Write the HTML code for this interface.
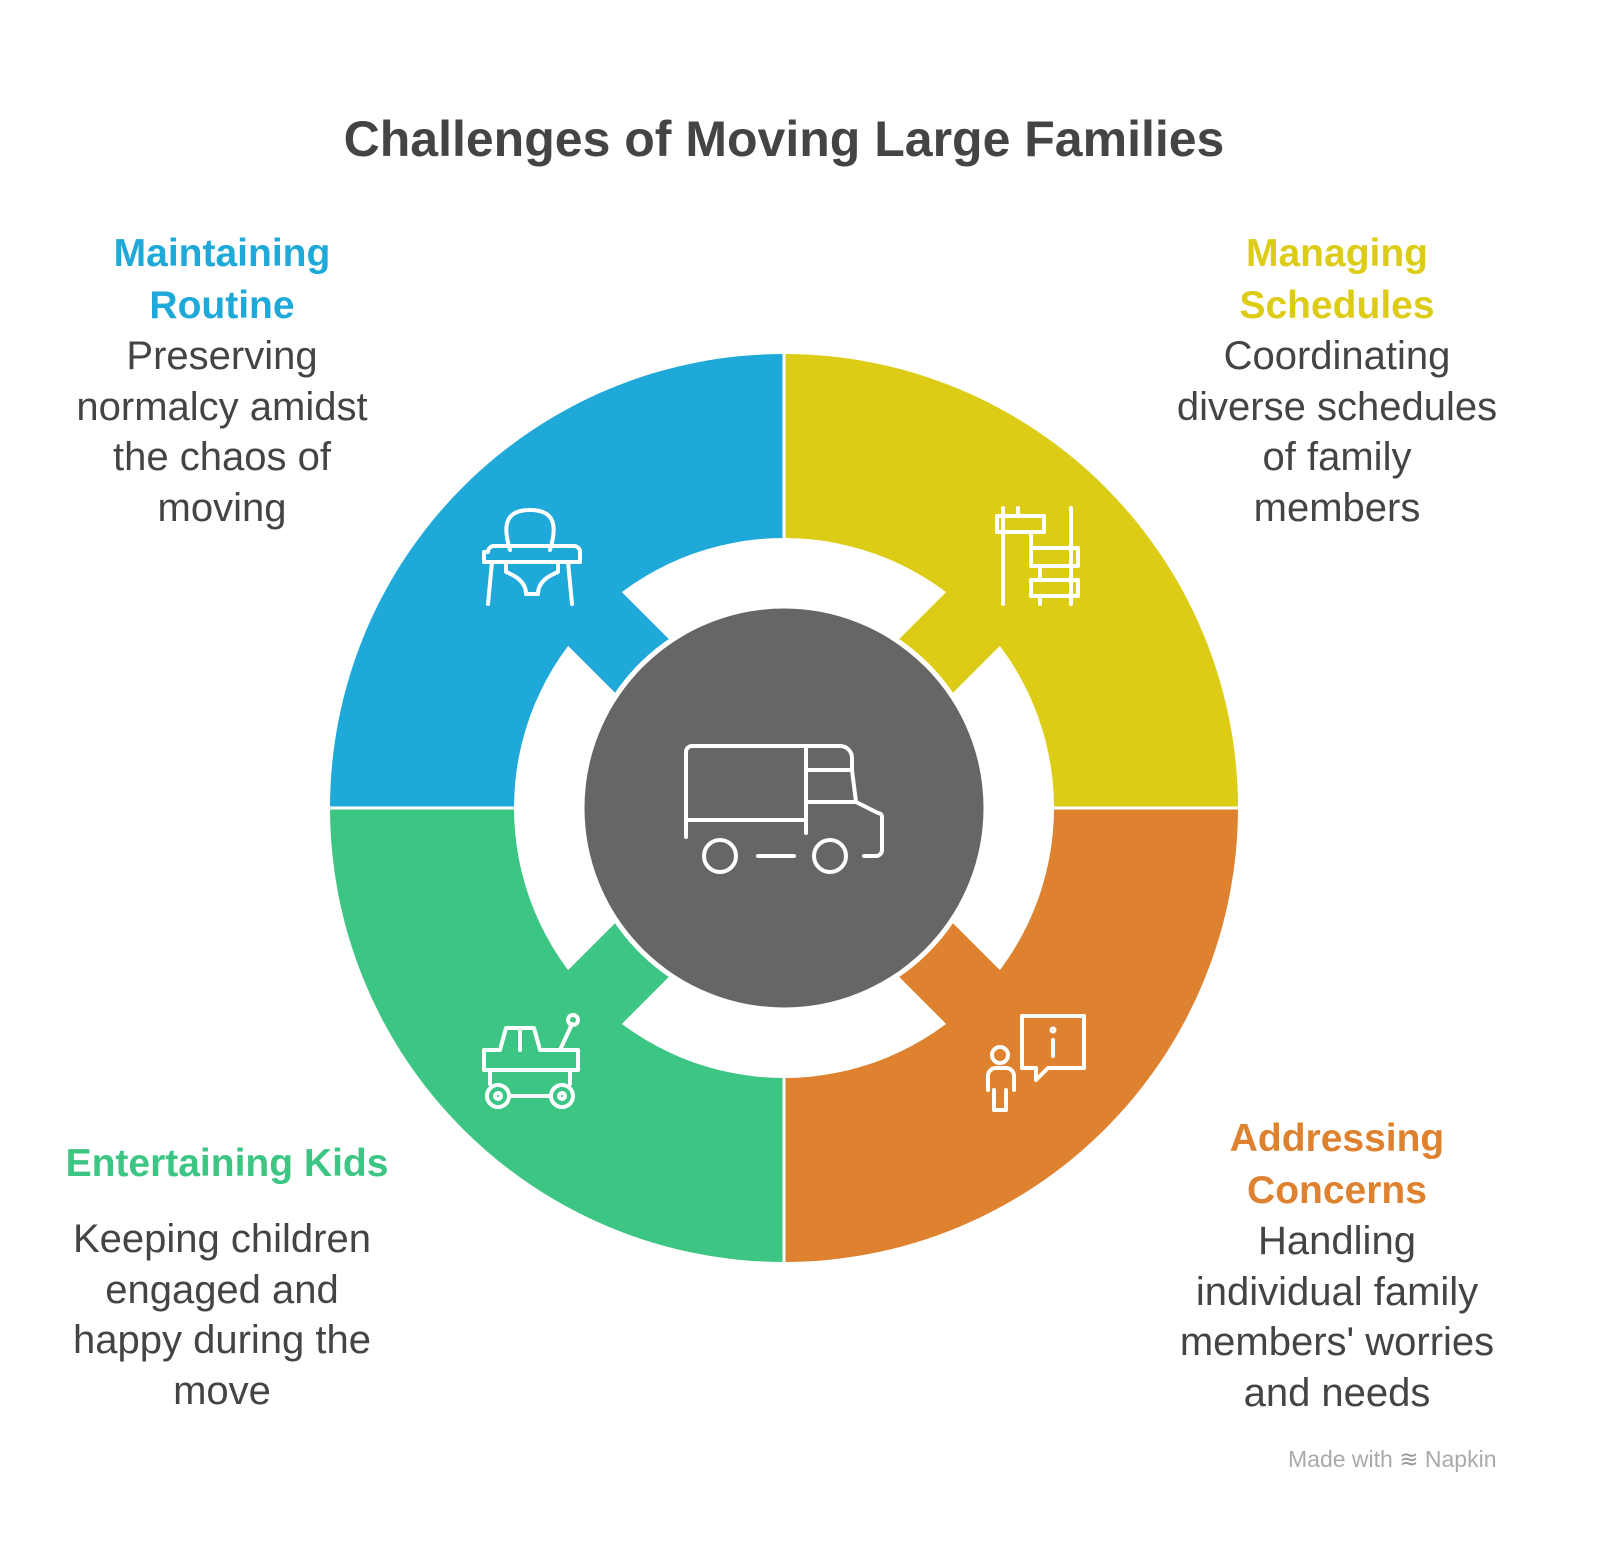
<!DOCTYPE html>
<html><head><meta charset="utf-8"><style>
body{margin:0;background:#fff;width:1600px;height:1548px;overflow:hidden;font-family:"Liberation Sans",sans-serif}
.t{position:absolute;text-align:center;font-size:40px;line-height:50.5px;color:#444;white-space:nowrap}
.h{font-weight:bold;font-size:39px}
</style></head><body>
<div style="position:absolute;left:0;width:1568px;top:110px;text-align:center;font-size:50px;font-weight:bold;color:#444">Challenges of Moving Large Families</div>
<svg width="1600" height="1548" style="position:absolute;left:0;top:0">
<g transform="translate(784,808)">
<path d="M-454,0 A454,454 0 0 1 0,-454 L0,-270 A270,270 0 0 0 -270,0Z" fill="#1FA9D9"/>
<path d="M0,-454 A454,454 0 0 1 454,0 L270,0 A270,270 0 0 0 0,-270Z" fill="#DDCC15"/>
<path d="M454,0 A454,454 0 0 1 0,454 L0,270 A270,270 0 0 0 270,0Z" fill="#DE8230"/>
<path d="M0,454 A454,454 0 0 1 -454,0 L-270,0 A270,270 0 0 0 0,270Z" fill="#3DC584"/>
<rect x="180" y="-38" width="100" height="76" fill="#1FA9D9" transform="rotate(-135)"/>
<rect x="180" y="-38" width="100" height="76" fill="#DDCC15" transform="rotate(-45)"/>
<rect x="180" y="-38" width="100" height="76" fill="#DE8230" transform="rotate(45)"/>
<rect x="180" y="-38" width="100" height="76" fill="#3DC584" transform="rotate(135)"/>
<line x1="0" y1="-460" x2="0" y2="460" stroke="#fff" stroke-width="3"/>
<line x1="-460" y1="0" x2="460" y2="0" stroke="#fff" stroke-width="3"/>
<circle r="202" fill="#666" stroke="#fff" stroke-width="5"/>
</g>
<g fill="none" stroke="#fff" stroke-width="4" stroke-linecap="round" stroke-linejoin="round">
<path d="M686,837 V752 a6,6 0 0 1 6,-6 H840 a12,12 0 0 1 12,12 V770 H806 M806,746 V833 M806,770 H852 L856,802 L878,813 a4,4 0 0 1 4,4 V850 a6,6 0 0 1 -6,6 H864 M686,820 H806 M806,802 H856"/>
<circle cx="720" cy="856" r="16"/><circle cx="830" cy="856" r="16"/>
<path d="M758,856 H794"/>
<path d="M510,550 c-6,-20 -8,-40 20,-40 c28,0 26,20 20,40 M488,552 a6,6 0 0 1 6,-6 H574 a6,6 0 0 1 6,6 V562 H484 V552Z M492,562 L488,604 M568,562 L572,604 M506,562 V572 c10,4 20,10 20,22 H538 c0,-12 10,-18 20,-22 V562"/>
<path d="M1003,508 V604 M1018,508 V516 M1071,508 V604 M997,516 H1044 V532 H997Z M1031,532 V548 M1031,548 H1078 V566 H1031Z M1031,580 H1078 V596 H1031Z M1040,566 V580 M1040,596 V604"/>
<path d="M484,1070 V1050 H500 L506,1028 H534 L540,1050 H578 V1070 M484,1070 H578 M520,1028 V1050 M560,1050 L572,1024"/>
<circle cx="573" cy="1020" r="5"/>
<circle cx="498" cy="1096" r="11"/><circle cx="562" cy="1096" r="11"/>
<circle cx="498" cy="1096" r="3"/><circle cx="562" cy="1096" r="3"/>
<path d="M490,1070 V1084 M570,1070 V1084 M510,1096 H550"/>
<path d="M1022,1016 H1084 V1068 H1048 L1036,1080 V1068 H1022Z M1053,1040 V1056"/>
<circle cx="1053" cy="1030" r="1.5"/>
<circle cx="1000" cy="1055" r="8"/>
<path d="M988,1090 V1076 a8,8 0 0 1 8,-8 H1006 a8,8 0 0 1 8,8 V1090 M994,1090 V1110 H1006 V1090"/>
</g>
</svg>
<div class="t" style="left:22px;width:400px;top:228px"><span class="h" style="color:#1FA9D9">Maintaining<br>Routine</span><br>Preserving<br>normalcy amidst<br>the chaos of<br>moving</div>
<div class="t" style="left:1137px;width:400px;top:228px"><span class="h" style="color:#DDCC15">Managing<br>Schedules</span><br>Coordinating<br>diverse schedules<br>of family<br>members</div>
<div class="t" style="left:22px;width:410px;top:1138px"><span class="h" style="color:#3DC584">Entertaining Kids</span></div>
<div class="t" style="left:22px;width:400px;top:1214px">Keeping children<br>engaged and<br>happy during the<br>move</div>
<div class="t" style="left:1137px;width:400px;top:1113px"><span class="h" style="color:#DE8230">Addressing<br>Concerns</span><br>Handling<br>individual family<br>members' worries<br>and needs</div>
<div style="position:absolute;left:1288px;top:1446px;font-size:23px;color:#aaa">Made with <span style="color:#999">≋</span> Napkin</div>
</body></html>
